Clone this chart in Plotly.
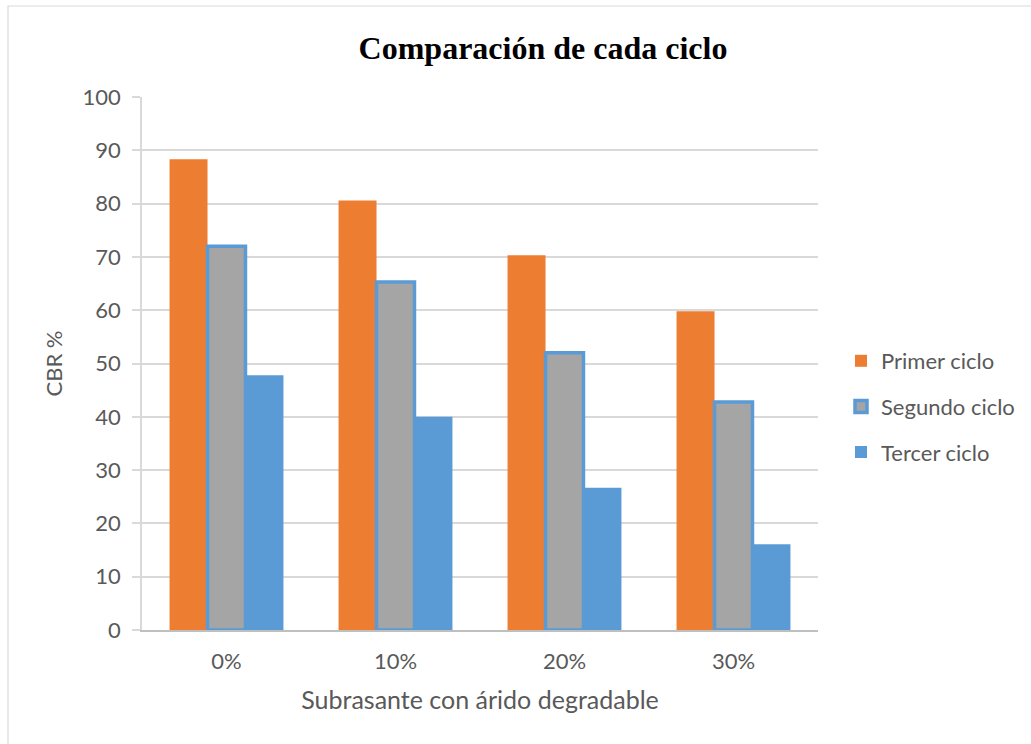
import plotly.graph_objects as go

categories = ["0%", "10%", "20%", "30%"]
primer = [88.3, 80.6, 70.3, 59.8]
segundo = [72.0, 65.3, 52.0, 42.8]
tercer = [47.8, 40.0, 26.7, 16.1]
y_ticks = [0, 10, 20, 30, 40, 50, 60, 70, 80, 90, 100]

W, H = 1031, 744
L, R, T, B = 142, 213, 97, 114
pw, ph = W - L - R, H - T - B

fig = go.Figure()
fig.add_trace(go.Bar(name="Primer ciclo", x=categories, y=primer,
                     marker=dict(color="#ED7D31", line=dict(width=0)),
                     legendgroup="a"))
fig.add_trace(go.Bar(name="Segundo ciclo", x=categories, y=segundo,
                     marker=dict(color="#A5A5A5", line=dict(color="#5B9BD5", width=3.5)),
                     legendgroup="b"))
fig.add_trace(go.Bar(name="Tercer ciclo", x=categories, y=tercer,
                     marker=dict(color="#5B9BD5", line=dict(width=0)),
                     legendgroup="c"))

fig.update_layout(
    width=W, height=H,
    margin=dict(l=L, r=R, t=T, b=B, pad=0, autoexpand=False),
    paper_bgcolor="white", plot_bgcolor="white",
    barmode="group", bargap=0.326, bargroupgap=0,
    font=dict(family="Lato, 'Open Sans', sans-serif", color="#595959", size=21),
    title=dict(text="<b>Comparación de cada ciclo</b>",
               font=dict(family="'Liberation Serif', 'Times New Roman', serif", size=32, color="black"),
               x=543 / W, xanchor="center", y=1 - 48 / H, yanchor="middle"),
    legend=dict(x=(841 - L) / pw, xanchor="left", y=1 - (340 - T) / ph, yanchor="top",
                font=dict(size=22, color="#595959"), tracegroupgap=14,
                traceorder="grouped", bgcolor="rgba(0,0,0,0)", itemwidth=30),
    showlegend=True,
)

fig.update_yaxes(range=[0, 100], tickvals=y_ticks, showgrid=True,
                 gridcolor="#D9D9D9", gridwidth=1.5,
                 showline=True, linecolor="#D9D9D9", linewidth=1.5,
                 ticks="outside", ticklen=8, tickcolor="#D9D9D9", tickwidth=1.5,
                 tickfont=dict(size=22, color="#595959"), ticklabelstandoff=7,
                 title=dict(text="CBR %", font=dict(size=22, color="#595959"), standoff=14),
                 zeroline=False, fixedrange=True)
fig.update_xaxes(showline=True, linecolor="#BFBFBF", linewidth=2, showgrid=False,
                 ticks="", tickfont=dict(size=22, color="#595959"), ticklabelstandoff=11,
                 title=dict(text="Subrasante con árido degradable",
                            font=dict(size=25, color="#595959"), standoff=18),
                 fixedrange=True)

# outer chart border (left/top visible)
fig.add_shape(type="rect", xref="paper", yref="paper",
              x0=(8 - L) / pw, x1=(W + 20 - L) / pw,
              y0=-(H + 20 - (T + ph)) / ph, y1=1 + (T - 6) / ph,
              line=dict(color="#D9D9D9", width=1.2), fillcolor="rgba(0,0,0,0)", layer="below")

fig.write_html("out.html")
